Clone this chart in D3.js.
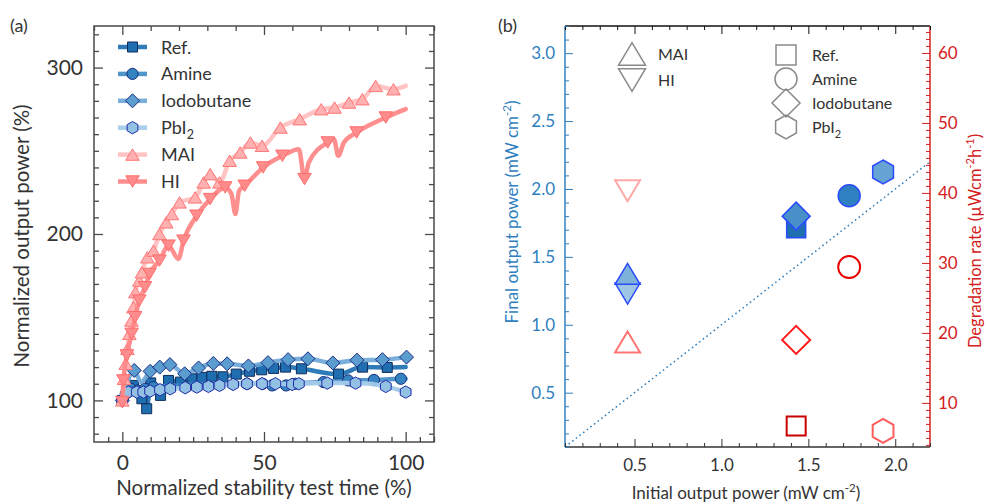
<!DOCTYPE html>
<html>
<head>
<meta charset="utf-8">
<script src="https://cdn.jsdelivr.net/npm/d3@7"></script>
<style>
  body { margin: 0; background: #fff; }
  svg { font-family: Lato, "Open Sans", sans-serif; }
</style>
</head>
<body>
<svg id="chart" width="988" height="504"></svg>
<script>
// ---------- Panel (a): normalized output power vs. normalized stability test time ----------
// [time %, power %] at each drawn marker
const refPts = [[0,100],[2,107],[3.9,109],[6.9,101],[8.6,95],[10,110.5],[13.5,103],[16.3,112],[20.5,111],[24.6,113],[28.1,113.8],[31.6,114.5],[35.5,114.2],[40.2,115.8],[44.9,117.5],[49.2,118.4],[53.4,119.2],[57.6,120],[63.2,119],[76.3,115.8],[84.8,120],[93.5,119.8]];
const refTrace = [[100,120]];
const aminePts = [[0,100],[1.2,104],[3,107],[5.5,106],[8,107],[11,108],[44,110],[49.5,110],[52.9,109],[57.8,109],[61,110],[71,111],[79.7,112],[88.8,112.3],[98.3,113]];
const amineTrace = [[20,109],[30,110],[100,113]];
const iodoPts = [[0,100],[4.2,118],[9.8,117.5],[13.2,120],[16.8,121.5],[22,116],[26.9,119.5],[32.1,122.2],[37,122],[44.5,120.7],[51.4,122.7],[58.5,124.5],[65.5,125],[74.3,122.5],[82.8,124.2],[91.8,124.5],[100.3,126]];
const iodoTrace = [[6.6,111]];
const pbi2Pts = [[0,100],[2.1,105],[5.1,105],[7.4,105],[9.8,105.6],[13.3,106.4],[16.9,107],[22.2,107.6],[26.3,108],[30.4,108.4],[34.3,109],[39.1,109.6],[44,110],[49.3,110],[54,110],[59.9,109.6],[62.3,110],[72.3,110.4],[82.3,110.4],[93,108.4],[100,105]];
const pbi2Trace = [];
const maiPts = [[0,100],[0.6,113],[1.2,122],[1.8,131],[2.5,140],[3.2,148],[3.9,156],[4.6,165],[6,172],[6.9,177],[8.8,186],[11,190],[13.1,200],[15.5,207],[17.5,212],[20.2,219],[25.7,222],[28.7,231],[31,236],[34.3,231],[37.9,244],[41.6,249],[45.2,255],[49.3,253],[55.8,264],[62.6,269],[70.2,275],[74.9,276],[80,279],[84.7,281],[89.4,289],[95.7,287]];
const maiTrace = [[100,289]];
const hiPts = [[0,99],[0.4,112],[1.6,127],[3.3,140],[4.5,150],[6,160],[8,168],[9.6,176],[13.1,184],[16.3,193],[21.6,196],[26.2,211],[31,221],[36.3,228],[43.2,229],[49.7,240],[56.5,247],[64.3,233],[72.5,255],[82.7,261],[93,270]];
const hiTrace = [[19.8,185],[38.5,224],[39.9,212],[41.2,226],[62.3,251],[65.8,243],[74.7,257],[76.2,247],[78.2,255],[100,275]];

const xTicksA = [0, 50, 100];
const yTicksA = [100, 200, 300];

// ---------- Panel (b): final output power and degradation rate vs. initial output power ----------
const devices = ["Ref.", "Amine", "Iodobutane", "PbI2", "MAI", "HI"];
const initialPower = [1.43, 1.735, 1.43, 1.93, 0.46, 0.46];     // mW cm^-2
const finalPower = [1.71, 1.95, 1.80, 2.125, 1.375, 1.23];       // mW cm^-2
const degradationRate = [6.7, 29.4, 19.0, 6.0, 18.7, 40.3];      // µW cm^-2 h^-1

const xTicksB = [0.5, 1.0, 1.5, 2.0];
const yTicksB = [0.5, 1.0, 1.5, 2.0, 2.5, 3.0];
const y2TicksB = [10, 20, 30, 40, 50, 60];

// ---------- helpers ----------
const svg = d3.select("#chart");
const TXT = "#333";

function shapePath(type, s) {
  switch (type) {
    case "square": return `M${-s},${-s}H${s}V${s}H${-s}Z`;
    case "circle": return d3.symbol(d3.symbolCircle, Math.PI * s * s)();
    case "diamond": return `M0,${-s}L${s},0L0,${s}L${-s},0Z`;
    case "hexagon": {
      const p = d3.range(6).map(i => {
        const a = (-90 + 60 * i) * Math.PI / 180;
        return [s * Math.cos(a), s * Math.sin(a)];
      });
      return "M" + p.map(q => q.join(",")).join("L") + "Z";
    }
    case "triUp": { const h = 1.68 * s; return `M0,${-h/2}L${s},${h/2}L${-s},${h/2}Z`; }
    case "triDown": { const h = 1.68 * s; return `M0,${h/2}L${s},${-h/2}L${-s},${-h/2}Z`; }
  }
}

// major + minor ticks pointing into the plot
function axisTicks(g, axisFn, scale, majors, minors, opt) {
  const minorVals = minors.filter(m => !majors.some(M => Math.abs(M - m) < 1e-9));
  const gm = g.append("g").call(axisFn(scale).tickValues(minorVals).tickSizeInner(-opt.minor).tickSizeOuter(0).tickFormat(""));
  gm.select(".domain").remove();
  gm.selectAll("line").attr("stroke", opt.color).attr("stroke-width", opt.sw || 1);
  const gM = g.append("g").call(axisFn(scale).tickValues(majors).tickSizeInner(-opt.major).tickSizeOuter(0)
    .tickPadding(opt.pad || 8).tickFormat(opt.fmt || ""));
  gM.select(".domain").remove();
  gM.selectAll("line").attr("stroke", opt.color).attr("stroke-width", opt.sw || 1);
  gM.selectAll("text").attr("fill", opt.textColor || TXT).attr("font-size", opt.fs || 16).attr("font-family", "Lato, sans-serif");
  return gM;
}

// ================= Panel (a) =================
const xA = d3.scaleLinear([-10, 110], [94, 434]);
const yA = d3.scaleLinear([75, 325], [442, 26]);
const gA = svg.append("g");

const seriesA = [
  { name: "Ref.", pts: refPts, trace: refTrace, shape: "square", s: 5, fill: "#1f6fb0", stroke: "#0f2d5c", line: "#2474b6", lw: 4.5, op: 0.95 },
  { name: "Amine", pts: aminePts, trace: amineTrace, shape: "circle", s: 5.6, fill: "#3584c1", stroke: "#16307a", line: "#3f8ac4", lw: 4.5, op: 0.9 },
  { name: "Iodobutane", pts: iodoPts, trace: iodoTrace, shape: "diamond", s: 7, fill: "#5c9dd0", stroke: "#1a2c85", line: "#6aa6d6", lw: 4.5, op: 0.9 },
  { name: "PbI2", pts: pbi2Pts, trace: pbi2Trace, shape: "hexagon", s: 6.2, fill: "#93c1e4", stroke: "#1f2ea8", line: "#a4cbea", lw: 4.5, op: 0.95 },
  { name: "MAI", pts: maiPts, trace: maiTrace, shape: "triUp", s: 6.8, fill: "#ffb0b0", stroke: "#ff7676", line: "#ffc0c0", lw: 4.5, op: 0.95 },
  { name: "HI", pts: hiPts, trace: hiTrace, shape: "triDown", s: 6.8, fill: "#ff8c8c", stroke: "#ff6e6e", line: "#ff8888", lw: 4.5, op: 0.95 }
];

const lineA = d3.line().x(d => xA(d[0])).y(d => yA(d[1])).curve(d3.curveMonotoneX);

seriesA.forEach(sr => {
  const all = sr.pts.concat(sr.trace).sort((a, b) => a[0] - b[0]);
  gA.append("path").attr("d", lineA(all)).attr("fill", "none")
    .attr("stroke", sr.line).attr("stroke-width", sr.lw).attr("stroke-opacity", sr.op)
    .attr("stroke-linejoin", "round").attr("stroke-linecap", "round");
  gA.append("g").selectAll("path").data(sr.pts).join("path")
    .attr("d", shapePath(sr.shape, sr.s))
    .attr("transform", d => `translate(${xA(d[0])},${yA(d[1])})`)
    .attr("fill", sr.fill).attr("stroke", sr.stroke).attr("stroke-width", 1);
});

// frame and ticks of panel (a)
const frameA = "#4a4a4a";
gA.append("rect").attr("x", 94).attr("y", 26).attr("width", 340).attr("height", 416)
  .attr("fill", "none").attr("stroke", frameA).attr("stroke-width", 1.5);
const minorX5 = d3.range(-5, 111, 5);
const minorX10 = d3.range(-10, 111, 10);
const minorY10 = d3.range(80, 321, 10);
axisTicks(gA.append("g").attr("transform", "translate(0,442)"), d3.axisBottom, xA, xTicksA, minorX5,
  { major: 10, minor: 5, color: frameA, sw: 1.3, pad: 13, fs: 21, fmt: d => d });
axisTicks(gA.append("g").attr("transform", "translate(0,26)"), d3.axisTop, xA, xTicksA, minorX10,
  { major: 9, minor: 5, color: frameA, sw: 1.3 });
axisTicks(gA.append("g").attr("transform", "translate(94,0)"), d3.axisLeft, yA, yTicksA, minorY10,
  { major: 9, minor: 5, color: frameA, sw: 1.3, pad: 11, fs: 21, fmt: d => d });
axisTicks(gA.append("g").attr("transform", "translate(434,0)"), d3.axisRight, yA, yTicksA, minorY10,
  { major: 9, minor: 5, color: frameA, sw: 1.3 });

gA.append("text").attr("x", 264).attr("y", 495).attr("text-anchor", "middle")
  .attr("font-size", 20.5).attr("fill", TXT).text("Normalized stability test time (%)");
gA.append("text").attr("transform", "translate(29,236) rotate(-90)").attr("text-anchor", "middle")
  .attr("font-size", 20.5).attr("fill", TXT).text("Normalized output power (%)");
gA.append("text").attr("x", 10).attr("y", 32).attr("font-size", 18).attr("fill", TXT).text("(a)");

// legend of panel (a)
const legA = gA.append("g");
seriesA.forEach((sr, i) => {
  const y = 47 + i * 26.9;
  legA.append("line").attr("x1", 118).attr("x2", 147).attr("y1", y).attr("y2", y)
    .attr("stroke", sr.line).attr("stroke-width", sr.lw).attr("stroke-opacity", sr.op);
  legA.append("path").attr("d", shapePath(sr.shape, sr.s)).attr("transform", `translate(132.5,${y})`)
    .attr("fill", sr.fill).attr("stroke", sr.stroke).attr("stroke-width", 1);
  const t = legA.append("text").attr("x", 161).attr("y", y + 6.5).attr("font-size", 18).attr("fill", TXT);
  if (sr.name === "PbI2") {
    t.append("tspan").text("PbI");
    t.append("tspan").attr("dy", 5).attr("font-size", 12.5).text("2");
  } else t.text(sr.name);
});

// ================= Panel (b) =================
const xB = d3.scaleLinear([0.1, 2.2], [565, 930]);
const yB = d3.scaleLinear([0.1, 3.2], [447, 26]);
const y2B = d3.scaleLinear([3.7, 63.85], [447, 26]);
const gB = svg.append("g");
const BLUE = "#2f7fbf", RED = "#d42020";

// y = x reference line
gB.append("path").attr("d", d3.line().x(d => xB(d)).y(d => yB(d))([0.1, 2.2]))
  .attr("stroke", "#2f7fbf").attr("stroke-width", 1.5).attr("stroke-dasharray", "1.6,3").attr("fill", "none");

const shapesB = ["square", "circle", "diamond", "hexagon", "triUp", "triDown"];
const sizeB = { square: 9.5, circle: 11, diamond: 14, hexagon: 12, triUp: 12.5, triDown: 12.5 };
const fillB = ["#1f6fb0", "#2f80c0", "#4a90c8", "#64a3d3", "#7db3da", "#9cc6e4"];
const openB = ["#c80000", "#e60000", "#ff1a1a", "#ff5c5c", "#ff7474", "#ffa8a8"];

// degradation rate (open markers, right axis)
devices.forEach((dv, i) => {
  gB.append("path").attr("d", shapePath(shapesB[i], sizeB[shapesB[i]]))
    .attr("transform", `translate(${xB(initialPower[i])},${y2B(degradationRate[i])})`)
    .attr("fill", "none").attr("stroke", openB[i]).attr("stroke-width", 2);
});
// final output power (filled markers, left axis)
[5, 4, 0, 2, 1, 3].forEach(i => {
  gB.append("path").attr("d", shapePath(shapesB[i], sizeB[shapesB[i]]))
    .attr("transform", `translate(${xB(initialPower[i])},${yB(finalPower[i])})`)
    .attr("fill", fillB[i]).attr("stroke", "#2a4bff").attr("stroke-width", 1.5);
});

// frame and ticks of panel (b)
const minorXB = d3.range(1, 23).map(i => i / 10);
const minorYB = d3.range(1, 33).map(i => i / 10);
const minorY2B = d3.range(4, 64);
gB.append("line").attr("x1", 565).attr("x2", 930).attr("y1", 26).attr("y2", 26).attr("stroke", "#111").attr("stroke-width", 1.5);
gB.append("line").attr("x1", 565).attr("x2", 930).attr("y1", 447).attr("y2", 447).attr("stroke", "#333").attr("stroke-width", 1.5);
gB.append("line").attr("x1", 565).attr("x2", 565).attr("y1", 26).attr("y2", 447).attr("stroke", BLUE).attr("stroke-width", 1.5);
gB.append("line").attr("x1", 930).attr("x2", 930).attr("y1", 26).attr("y2", 447).attr("stroke", RED).attr("stroke-width", 1.5);

axisTicks(gB.append("g").attr("transform", "translate(0,447)"), d3.axisBottom, xB, xTicksB, minorXB,
  { major: 8, minor: 4, color: "#333", pad: 12, fs: 17, fmt: d3.format(".1f") });
axisTicks(gB.append("g").attr("transform", "translate(0,26)"), d3.axisTop, xB, xTicksB, minorXB,
  { major: 8, minor: 4, color: "#111" });
axisTicks(gB.append("g").attr("transform", "translate(565,0)"), d3.axisLeft, yB, yTicksB, minorYB,
  { major: 8, minor: 4, color: BLUE, pad: 10, fs: 17, textColor: BLUE, fmt: d3.format(".1f") });
axisTicks(gB.append("g").attr("transform", "translate(930,0)"), d3.axisRight, y2B, y2TicksB, minorY2B,
  { major: 8, minor: 4, color: RED, pad: 8, fs: 17, textColor: RED, fmt: d => d });

// axis titles of panel (b)
const tx = gB.append("text").attr("x", 746).attr("y", 499).attr("text-anchor", "middle").attr("font-size", 17).attr("fill", TXT);
tx.append("tspan").text("Initial output power (mW cm");
tx.append("tspan").attr("dy", -7).attr("font-size", 11.5).text("-2");
tx.append("tspan").attr("dy", 7).text(")");

const tyl = gB.append("text").attr("transform", "translate(518,212) rotate(-90)").attr("text-anchor", "middle").attr("font-size", 17).attr("fill", BLUE);
tyl.append("tspan").text("Final output power (mW cm");
tyl.append("tspan").attr("dy", -7).attr("font-size", 11.5).text("-2");
tyl.append("tspan").attr("dy", 7).text(")");

const tyr = gB.append("text").attr("transform", "translate(981,241) rotate(-90)").attr("text-anchor", "middle").attr("font-size", 16.5).attr("fill", RED);
tyr.append("tspan").text("Degradation rate (\u00b5Wcm");
tyr.append("tspan").attr("dy", -7).attr("font-size", 11).text("-2");
tyr.append("tspan").attr("dy", 7).text("h");
tyr.append("tspan").attr("dy", -7).attr("font-size", 11).text("-1");
tyr.append("tspan").attr("dy", 7).text(")");

gB.append("text").attr("x", 498).attr("y", 32).attr("font-size", 18).attr("fill", TXT).text("(b)");

// legend of panel (b): marker shapes only
const legB = gB.append("g");
const legRows = [
  { i: 4, x: 632, y: 54 }, { i: 5, x: 632, y: 80 },
  { i: 0, x: 786, y: 55 }, { i: 1, x: 786, y: 79 }, { i: 2, x: 786, y: 103 }, { i: 3, x: 786, y: 127 }
];
const legSize = { square: 10, circle: 11, diamond: 14, hexagon: 12, triUp: 13.5, triDown: 13.5 };
legRows.forEach(r => {
  const sh = shapesB[r.i];
  legB.append("path").attr("d", shapePath(sh, legSize[sh])).attr("transform", `translate(${r.x},${r.y})`)
    .attr("fill", "none").attr("stroke", "#8a8a8a").attr("stroke-width", 1.5);
  const t = legB.append("text").attr("x", r.x + 26).attr("y", r.y + 6).attr("font-size", 16).attr("fill", TXT);
  if (devices[r.i] === "PbI2") {
    t.append("tspan").text("PbI");
    t.append("tspan").attr("dy", 5).attr("font-size", 11).text("2");
  } else t.text(devices[r.i]);
});
</script>
</body>
</html>
